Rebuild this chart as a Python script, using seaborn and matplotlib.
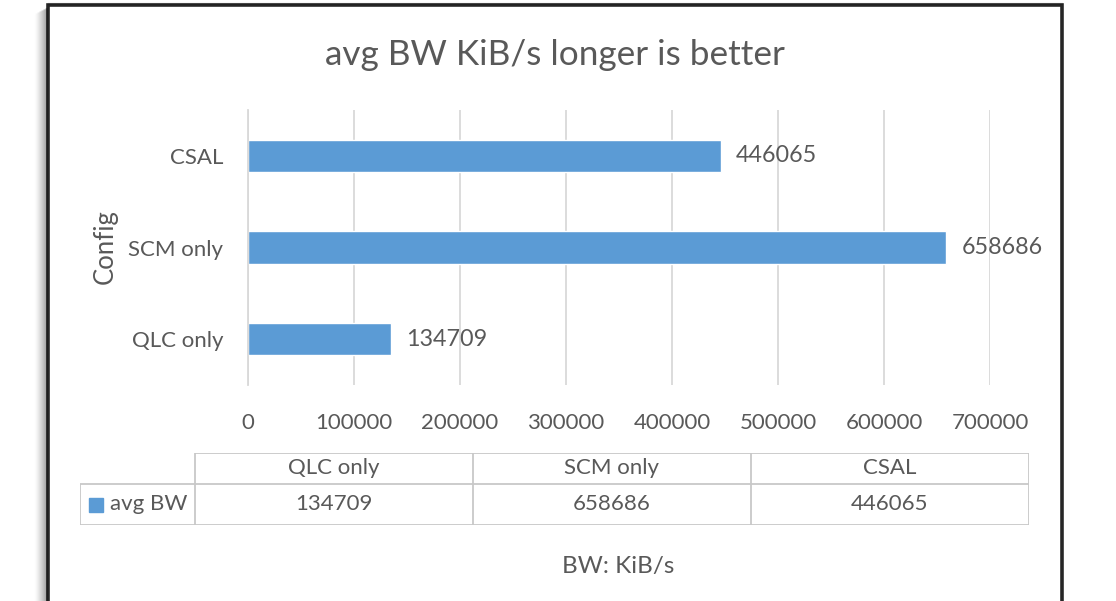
import numpy as np
import pandas as pd
import matplotlib
matplotlib.use('Agg')
import matplotlib.pyplot as plt
import seaborn as sns
from matplotlib.patches import Rectangle
from matplotlib.lines import Line2D

# data
configs = ['QLC only', 'SCM only', 'CSAL']
avg_bw = [134709, 658686, 446065]
x_ticks = [0, 100000, 200000, 300000, 400000, 500000, 600000, 700000]
series_name = 'avg BW'

df = pd.DataFrame({'Config': configs, 'BW': avg_bw})
plot_order = configs[::-1]  # Excel draws first category at the bottom

sns.set_theme(style='white')
plt.rcParams['font.family'] = ['Lato', 'DejaVu Sans']
text_color = '#595959'
bar_color = '#5B9BD5'
grid_color = '#d9d9d9'

W, H = 1116, 601
fig = plt.figure(figsize=(W / 100, H / 100), dpi=100)


def fx(px):
    return px / W


def fy(py):
    return 1 - py / H


# chart frame with a soft shadow on the left
for k in range(1, 14):
    fig.add_artist(Line2D([fx(48 - k)] * 2, [0, fy(8 + k * 0.5)], transform=fig.transFigure,
                          color='black', alpha=0.28 * (1 - k / 14) ** 1.5, lw=1.2))
for k in range(1, 5):
    fig.add_artist(Line2D([fx(48), fx(1062)], [fy(5 - k * 0.8)] * 2, transform=fig.transFigure,
                          color='black', alpha=0.08 * (1 - k / 5), lw=1))
fig.add_artist(Rectangle((fx(48), -0.05), fx(1062) - fx(48), fy(5) + 0.05,
                         transform=fig.transFigure, fill=False, ec='#262626', lw=2.6))

# bars
ax = fig.add_axes([fx(248), fy(385), fx(990) - fx(248), fy(110) - fy(385)])
sns.barplot(data=df, x='BW', y='Config', order=plot_order, color=bar_color,
            saturation=1, width=0.35, ax=ax)
ax.set_xlim(0, 700000)
ax.set_ylim(2.5, -0.5)
ax.set_xticks(x_ticks)
ax.set_xticklabels([str(t) for t in x_ticks])
ax.grid(axis='x', color=grid_color, lw=1.3)
ax.set_axisbelow(True)
for s in ['top', 'right', 'bottom']:
    ax.spines[s].set_visible(False)
ax.spines['left'].set_color(grid_color)
ax.spines['left'].set_linewidth(1.3)
ax.tick_params(axis='x', length=0, pad=20, labelsize=16, labelcolor=text_color)
ax.tick_params(axis='y', length=0, pad=18, labelsize=16, labelcolor=text_color)
ax.set_xlabel('')
ax.set_ylabel('')
ax.bar_label(ax.containers[0], fmt='%d', padding=11, fontsize=16.8, color=text_color)

fig.text(fx(555), fy(55), 'avg BW KiB/s longer is better', ha='center', va='center',
         fontsize=25.3, color=text_color)
fig.text(fx(105), fy(247), 'Config', rotation=90, ha='center', va='center',
         fontsize=18.5, color=text_color)
fig.text(fx(618), fy(566), 'BW: KiB/s', ha='center', va='center',
         fontsize=17.5, color=text_color)

# data table under the chart
tab = fig.add_axes([fx(80), fy(525), fx(1029) - fx(80), fy(453) - fy(525)])
tab.axis('off')
label_w = 115
col_w = 278
row_h, head_h = 41, 31
total_w = label_w + col_w * len(configs)
tab.set_xlim(0, total_w)
tab.set_ylim(0, row_h + head_h)
line_kw = dict(color='#c8c8c8', lw=1.3, solid_capstyle='butt')
tab.plot([0, total_w], [0, 0], **line_kw)
tab.plot([0, total_w], [row_h, row_h], **line_kw)
tab.plot([label_w, total_w], [row_h + head_h] * 2, **line_kw)
tab.plot([0, 0], [0, row_h], **line_kw)
for i in range(len(configs) + 1):
    x = label_w + i * col_w
    tab.plot([x, x], [0, row_h + head_h], **line_kw)
for i, (c, v) in enumerate(zip(configs, avg_bw)):
    cx = label_w + (i + 0.5) * col_w
    tab.text(cx, row_h + head_h / 2, c, ha='center', va='center', fontsize=16, color=text_color)
    tab.text(cx, row_h / 2, str(v), ha='center', va='center', fontsize=16, color=text_color)
tab.add_patch(Rectangle((9, row_h / 2 - 7), 14, 14, color=bar_color))
tab.text(30, row_h / 2, series_name, ha='left', va='center', fontsize=16, color=text_color)

fig.savefig('out.png', dpi=100, facecolor='white')
